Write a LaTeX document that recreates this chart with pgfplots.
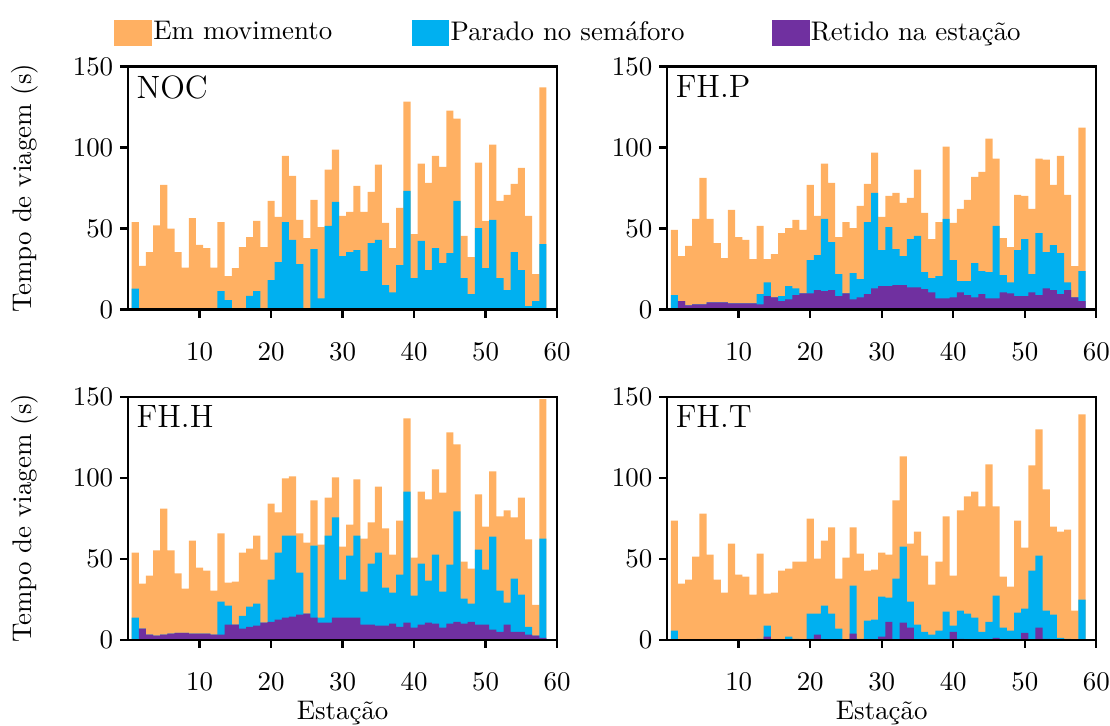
\documentclass[border=0pt]{standalone}
\usepackage{pgfplots}
\usepackage{pgfplotstable}
\pgfplotsset{compat=1.18}
\definecolor{cmov}{HTML}{FFB062}
\definecolor{csem}{HTML}{00B0F0}
\definecolor{cret}{HTML}{7030A0}

% columns: station, total (em movimento top), parado top, retido top
\pgfplotstableread{
x tot par ret
1 54 13 0
2 27 0 0
3 35.5 0 0
4 52 0 0
5 77 0 0
6 50 0 0
7 35.5 0 0
8 26 0 0
9 56.5 0 0
10 40 0 0
11 38 0 0
12 26 0 0
13 54 11.5 0
14 20.7 5.8 0
15 25.6 0 0
16 38.6 0 0
17 44.8 8.5 0
18 54.8 11.4 0
19 38.6 0 0
20 67.1 18.2 0
21 57.2 29.3 0
22 95 54.1 0
23 82.6 43 0
24 55.4 28.1 0
25 44.2 0 0
26 67.8 37.4 0
27 51 7 0
28 86.4 51.7 0
29 98.8 66.5 0
30 57.9 33.1 0
31 60.3 35.5 0
32 76.4 36.8 0
33 60.3 23.8 0
34 72.7 41.1 0
35 89.5 43 0
36 53.5 15.1 0
37 38 10.7 0
38 62.8 27.5 0
39 128.5 73.3 0
40 46.7 19.4 0
41 90.1 42.4 0
42 78.3 24.4 0
43 95 38 0
44 88.2 28.7 0
45 122.9 34.9 0
46 118 67.1 0
47 45.5 19.4 0
48 32.4 9.5 0
49 90.7 50.4 0
50 54.8 25.6 0
51 101.9 55.4 0
52 67.1 19.4 0
53 70.9 12 0
54 77.7 35.5 0
55 87.6 24.4 0
56 57.9 2.1 0
57 21.9 5.2 0
58 137.2 40.5 0
}\tabNOC

\pgfplotstableread{
x tot par ret
1 49.2 8.9 0
2 33.1 5.2 5.2
3 39.3 2.7 2.7
4 56 3.3 3.3
5 81.4 3.3 3.3
6 56 4.5 4.5
7 41.1 4.5 4.5
8 31.8 4.5 4.5
9 61.6 3.9 3.9
10 44.8 3.9 3.9
11 43 3.9 3.9
12 31.2 3.9 3.9
13 51.7 9.5 3.3
14 31.2 16.9 8.3
15 34.3 7.6 7.6
16 47.3 8.3 5.2
17 50.4 14.5 6.4
18 55.4 13.2 8.9
19 49.2 10.1 10.1
20 77.1 30.6 10.1
21 57.9 33.7 12
22 90.1 56 11.4
23 78.3 41.7 12
24 44.8 21.9 8.3
25 54.1 10.1 10.1
26 50.4 22.5 6.4
27 64 18.8 7.6
28 77.7 54.1 9.5
29 96.9 72.1 13.2
30 57.2 36.8 14.5
31 70.2 51 14.5
32 72.1 37.4 15.1
33 65.9 33.1 15.1
34 69 43.6 13.8
35 86.4 45.5 13.8
36 59.7 23.1 12.6
37 43.6 19.4 10.7
38 54.1 20.7 7
39 100.6 56 7
40 53.5 30.6 7.6
41 62.2 17.6 10.7
42 67.8 17.6 8.9
43 82 28.7 7.6
44 85.1 23.8 9.5
45 105.6 23.1 7
46 93.2 51.7 7
47 44.2 21.3 10.7
48 38.6 16.9 10.1
49 70.9 36.8 8.3
50 70.2 43.6 8.3
51 62.2 21.9 10.7
52 93.2 47.3 8.9
53 92.6 35.5 13.2
54 77.1 39.9 12
55 95 34.9 9.5
56 70.9 16.9 12
57 26.9 7.6 7.6
58 112.4 23.8 5.2
}\tabFHP

\pgfplotstableread{
x tot par ret
1 53.8 13.6 0
2 34.6 6.8 6.8
3 39.6 3.1 3.1
4 55.1 2.5 2.5
5 81 3.1 3.1
6 55.1 3.7 3.7
7 41 4.3 4.3
8 31.5 4.3 4.3
9 61.2 3.7 3.7
10 44.5 3.7 3.7
11 42.7 3.7 3.7
12 30.3 3.1 3.1
13 65.6 23.5 3.1
14 35.3 21 9.3
15 35.9 9.3 9.3
16 53.8 14.8 6.8
17 56.3 20.4 8
18 64.3 22.3 8.7
19 49.5 10.5 10.5
20 84.1 37.1 11.1
21 78.6 53.8 12.4
22 99.6 64.3 13.6
23 100.8 64.3 14.2
24 65.6 41.4 15.5
25 60 16.1 16.1
26 86 58.1 13.6
27 58.8 13.6 10.5
28 87.8 64.3 10.5
29 100.2 75.5 13.6
30 57.5 37.1 13.6
31 71.1 52 13.6
32 99 64.3 13.6
33 62.5 29.7 9.3
34 72.4 47 9.3
35 94.6 53.8 8.7
36 68.7 32.2 8.7
37 52.6 29.1 9.9
38 73.6 40.2 8
39 136.7 91.5 10.5
40 50.7 27.2 7.4
41 91.5 47 9.3
42 86.6 36.5 10.5
43 105.2 52.6 9.9
44 90.9 29.7 7.4
45 128 46.4 9.9
46 120.6 79.2 11.1
47 48.2 25.4 9.9
48 43.9 22.3 11.1
49 89.7 55.7 9.3
50 69.9 43.3 9.3
51 103.9 63.7 6.2
52 76.1 30.3 4.9
53 79.8 22.9 9.3
54 75.5 37.7 4.9
55 87.8 27.8 4.9
56 61.9 8 3.1
57 21.6 2.5 2.5
58 148.5 62.5 1.2
}\tabFHH

\pgfplotstableread{
x tot par ret
1 73.6 5.6 0
2 34.6 0 0
3 37.1 0 0
4 51.3 0 0
5 77.9 0 0
6 52.6 0 0
7 37.1 0 0
8 29.1 0 0
9 59.4 0 0
10 40.2 0 0
11 39 0 0
12 27.8 0 0
13 53.2 0.6 0
14 28.5 8.7 1.9
15 29.1 0 0
16 42.7 0.3 0
17 43.9 1.9 0
18 48.2 0.6 0
19 48.2 0 0
20 74.8 16.1 0.6
21 50.1 16.1 3.1
22 61.2 21 0
23 69.3 16.1 0
24 37.7 6.8 0
25 50.7 0 0
26 69.3 33.4 3.7
27 53.2 0.6 0
28 42.7 11.8 0
29 43.3 12.4 0
30 53.8 26.6 1.9
31 52.6 26 11.1
32 86 37.7 0
33 113.2 57.5 10.5
34 59.4 23.5 7.4
35 66.8 9.3 0
36 52 4.9 0
37 34 3.1 0
38 48.2 5.6 0
39 76.1 17.3 0
40 39.6 8.7 4.9
41 79.8 17.9 0.6
42 88.5 16.1 0
43 91.5 13.6 0
44 82.3 4.9 0
45 108.2 11.1 0
46 82.3 27.2 1.2
47 39 7.4 0
48 32.8 5.6 0.3
49 73.6 16.7 0
50 56.9 19.2 4.3
51 107.6 42.7 0
52 129.9 52 7.4
53 92.8 17.9 0.6
54 69.9 15.5 0
55 66.8 1.2 0
56 68 0.6 0
57 17.9 0 0
58 139.2 24.7 0
}\tabFHT

\pgfplotsset{
  panel/.style={
    scale only axis, width=159.5pt, height=90.3pt,
    xmin=0, xmax=60, ymin=0, ymax=150,
    xtick={10,20,...,60}, ytick={0,50,100,150},
    tick align=outside, xtick pos=left, ytick pos=left,
    major tick length=3pt,
    axis line style={line width=0.9pt},
    every tick/.style={line width=0.9pt, black},
    axis on top,
    xticklabel style={yshift=-6pt},
    yticklabel style={xshift=1pt},
    ylabel style={at={(axis description cs:-0.24,0.5)}, anchor=center},
    xlabel style={at={(axis description cs:0.5,-0.30)}, anchor=center},
  },
  bars/.style={ybar, bar width=1, bar shift=0pt, draw=none, fill=#1},
}

\begin{document}
\begin{tikzpicture}
\useasboundingbox (0,0) rectangle (412.6pt,269.5pt);
% top-left
\begin{axis}[panel, at={(47.6pt,154.4pt)}, anchor=south west,
  ylabel={Tempo de viagem (s)},
  legend columns=3,
  legend image code/.code={\fill[#1,draw=none] (0pt,-4.8pt) rectangle (14pt,4.8pt);},
  legend style={at={(-0.052,1.14)}, anchor=west, draw=none, fill=none,
    nodes={inner xsep=0.5pt},
    /tikz/column 2/.style={column sep=29pt},
    /tikz/column 4/.style={column sep=32pt}},
]
\addplot[bars=cmov] table[x=x,y=tot] {\tabNOC};
\addplot[bars=csem] table[x=x,y=par] {\tabNOC};
\addplot[bars=cret] table[x=x,y=ret] {\tabNOC};
\legend{Em movimento, Parado no semáforo, Retido na estação}
\node[anchor=north west, font=\large, inner sep=3pt] at (rel axis cs:0,1) {NOC};
\end{axis}
% top-right
\begin{axis}[panel, at={(248pt,154.4pt)}, anchor=south west]
\addplot[bars=cmov] table[x=x,y=tot] {\tabFHP};
\addplot[bars=csem] table[x=x,y=par] {\tabFHP};
\addplot[bars=cret] table[x=x,y=ret] {\tabFHP};
\node[anchor=north west, font=\large, inner sep=3pt] at (rel axis cs:0,1) {FH.P};
\end{axis}
% bottom-left
\begin{axis}[panel, at={(47.6pt,31.7pt)}, anchor=south west,
  ylabel={Tempo de viagem (s)}, xlabel={Estação}]
\addplot[bars=cmov] table[x=x,y=tot] {\tabFHH};
\addplot[bars=csem] table[x=x,y=par] {\tabFHH};
\addplot[bars=cret] table[x=x,y=ret] {\tabFHH};
\node[anchor=north west, font=\large, inner sep=3pt] at (rel axis cs:0,1) {FH.H};
\end{axis}
% bottom-right
\begin{axis}[panel, at={(248pt,31.7pt)}, anchor=south west, xlabel={Estação}]
\addplot[bars=cmov] table[x=x,y=tot] {\tabFHT};
\addplot[bars=csem] table[x=x,y=par] {\tabFHT};
\addplot[bars=cret] table[x=x,y=ret] {\tabFHT};
\node[anchor=north west, font=\large, inner sep=3pt] at (rel axis cs:0,1) {FH.T};
\end{axis}
\end{tikzpicture}
\end{document}
